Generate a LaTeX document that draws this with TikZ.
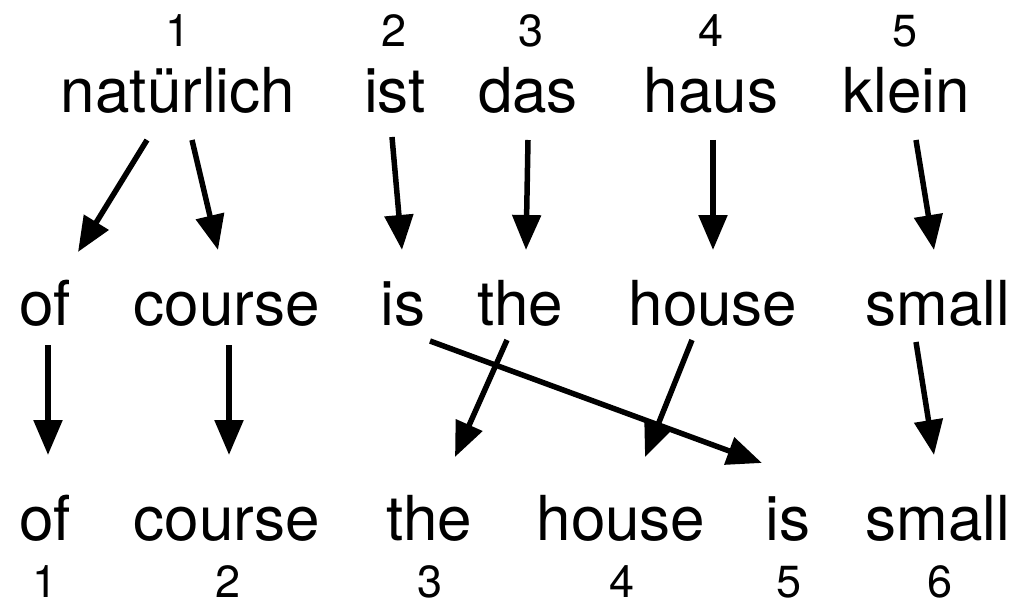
\documentclass[tikz,border=0pt]{standalone}
\usepackage{fontspec}
\setmainfont{TeX Gyre Heros}
\usetikzlibrary{arrows.meta,calc}
\tikzset{
  word/.style={inner sep=0pt, anchor=base, font=\fontsize{62}{62}\selectfont},
  idx/.style={inner sep=0pt, anchor=base, font=\fontsize{45}{45}\selectfont},
  link/.style={line width=5.5pt, -{Triangle[length=35pt,width=28pt]}},
}
\begin{document}
\begin{tikzpicture}[x=1pt,y=-1pt]
\useasboundingbox (0,0) rectangle (1023,607);

% German source sentence with positions
\node[idx] (g1) at (178,47) {1};
\node[idx] (g2) at (394,47) {2};
\node[idx] (g3) at (531,47) {3};
\node[idx] (g4) at (711,47) {4};
\node[idx] (g5) at (905,47) {5};
\node[word] (nat)   at (178,113) {natürlich};
\node[word] (ist)   at (395,113) {ist};
\node[word] (das)   at (528,113) {das};
\node[word] (haus)  at (711,113) {haus};
\node[word] (klein) at (906,113) {klein};

% word-by-word translation
\node[word] (of2)     at (45,325)  {of};
\node[word] (course2) at (227,325) {course};
\node[word] (is2)     at (403,325) {is};
\node[word] (the2)    at (520,325) {the};
\node[word] (house2)  at (713,325) {house};
\node[word] (small2)  at (938,325) {small};

% reordered English output with positions
\node[word] (of3)     at (45,540)  {of};
\node[word] (course3) at (227,540) {course};
\node[word] (the3)    at (429,540) {the};
\node[word] (house3)  at (621,540) {house};
\node[word] (is3)     at (788,540) {is};
\node[word] (small3)  at (938,540) {small};
\node[idx] (e1) at (45,597)  {1};
\node[idx] (e2) at (228,597) {2};
\node[idx] (e3) at (430,597) {3};
\node[idx] (e4) at (622,597) {4};
\node[idx] (e5) at (789,597) {5};
\node[idx] (e6) at (940,597) {6};

% translation links
\draw[link] ($(nat.base)+(-31,27)$)  -- ($(of2.base)+(33,-73)$);
\draw[link] ($(nat.base)+(14,27)$)   -- ($(course2.base)+(-9,-75)$);
\draw[link] ($(ist.base)+(-3,24)$)   -- ($(is2.base)+(-1,-75)$);
\draw[link] ($(das.base)+(0,27)$)    -- ($(the2.base)+(6,-75)$);
\draw[link] ($(haus.base)+(2,27)$)   -- ($(house2.base)+(0,-75)$);
\draw[link] ($(klein.base)+(10,27)$) -- ($(small2.base)+(-4,-75)$);

% reordering links
\draw[link] ($(of2.base)+(3,20)$)     -- ($(of3.base)+(3,-85)$);
\draw[link] ($(course2.base)+(2,20)$) -- ($(course3.base)+(2,-85)$);
\draw[link] ($(is2.base)+(27,16)$)    -- ($(is3.base)+(-26,-77)$);
\draw[link] ($(the2.base)+(-13,15)$)  -- ($(the3.base)+(26,-83)$);
\draw[link] ($(house2.base)+(-21,15)$) -- ($(house3.base)+(24,-83)$);
\draw[link] ($(small2.base)+(-22,17)$) -- ($(small3.base)+(-4,-85)$);
\end{tikzpicture}
\end{document}
